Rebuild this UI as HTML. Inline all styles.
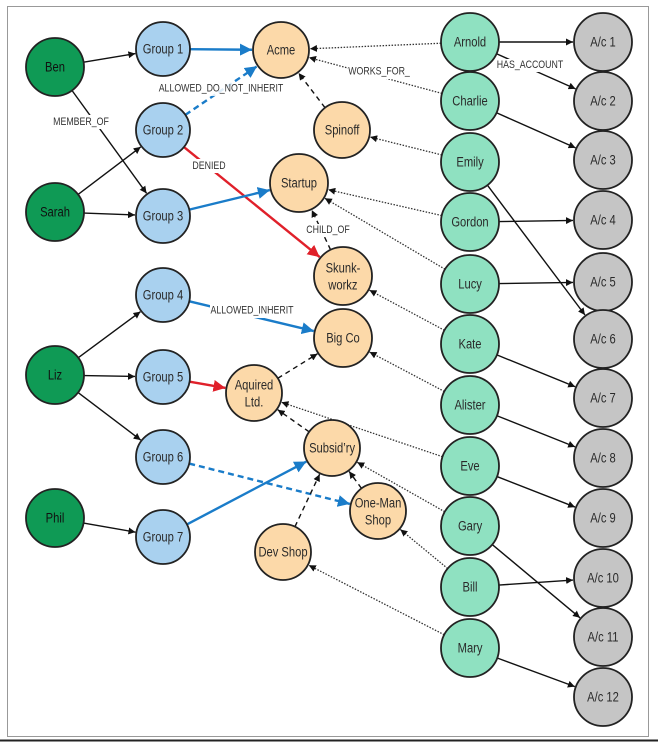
<!DOCTYPE html>
<html><head><meta charset="utf-8"><style>
html,body{margin:0;padding:0;background:#fff;}
svg{display:block;}
text{font-family:"Liberation Sans",sans-serif;font-size:14px;fill:#2a2a2a;text-anchor:middle;dominant-baseline:central;transform-box:fill-box;transform-origin:center;transform:scaleX(0.8);}
.lbl{font-size:11px;fill:#333;}
circle{stroke:#222;stroke-width:1.8;}
.p{fill:#0f9a55}.g{fill:#a9d1ef}.c{fill:#fcd9a9}.e{fill:#8fe1c1}.a{fill:#c5c5c5}
</style></head><body>
<svg id="s" width="658" height="742" viewBox="0 0 658 742">
<defs>
<marker id="mk" viewBox="0 0 10 10" refX="10" refY="5" markerWidth="7" markerHeight="7" markerUnits="userSpaceOnUse" orient="auto"><path d="M0,0L10,5L0,10z" fill="#111"/></marker>
<marker id="mb" viewBox="0 0 10 10" refX="10" refY="5" markerWidth="12" markerHeight="12" markerUnits="userSpaceOnUse" orient="auto"><path d="M0,0L10,5L0,10z" fill="#1a7cc9"/></marker>
<marker id="mr" viewBox="0 0 10 10" refX="10" refY="5" markerWidth="12" markerHeight="12" markerUnits="userSpaceOnUse" orient="auto"><path d="M0,0L10,5L0,10z" fill="#e0202a"/></marker>
</defs>
<rect x="7.5" y="6.5" width="641" height="730" fill="none" stroke="#999" stroke-width="1"/>
<line x1="0" y1="740.5" x2="658" y2="740.5" stroke="#222" stroke-width="2"/>
<g id="edges"></g>
<g id="nodes">
<circle class="p" cx="55" cy="67" r="29"/><text x="55" y="67" style="fill:#111">Ben</text>
<circle class="p" cx="55" cy="212" r="29"/><text x="55" y="212" style="fill:#111">Sarah</text>
<circle class="p" cx="55" cy="375" r="29"/><text x="55" y="375" style="fill:#111">Liz</text>
<circle class="p" cx="55" cy="518" r="29"/><text x="55" y="518" style="fill:#111">Phil</text>
<circle class="g" cx="163" cy="49" r="27"/><text x="163" y="49">Group 1</text>
<circle class="g" cx="163" cy="130" r="27"/><text x="163" y="130">Group 2</text>
<circle class="g" cx="163" cy="216" r="27"/><text x="163" y="216">Group 3</text>
<circle class="g" cx="163" cy="295" r="27"/><text x="163" y="295">Group 4</text>
<circle class="g" cx="163" cy="377" r="27"/><text x="163" y="377">Group 5</text>
<circle class="g" cx="163" cy="457" r="27"/><text x="163" y="457">Group 6</text>
<circle class="g" cx="163" cy="537" r="27"/><text x="163" y="537">Group 7</text>
<circle class="c" cx="281" cy="50" r="28"/><text x="281" y="50">Acme</text>
<circle class="c" cx="342" cy="130" r="28"/><text x="342" y="130">Spinoff</text>
<circle class="c" cx="299" cy="183" r="29"/><text x="299" y="183">Startup</text>
<circle class="c" cx="343" cy="276" r="29"/><text x="343" y="268">Skunk-</text><text x="343" y="285">workz</text>
<circle class="c" cx="343" cy="338" r="29"/><text x="343" y="338">Big Co</text>
<circle class="c" cx="254" cy="393" r="28"/><text x="254" y="385">Aquired</text><text x="254" y="402">Ltd.</text>
<circle class="c" cx="332" cy="448" r="28"/><text x="332" y="448">Subsid’ry</text>
<circle class="c" cx="378" cy="511" r="28"/><text x="378" y="503">One-Man</text><text x="378" y="520">Shop</text>
<circle class="c" cx="283" cy="552" r="28"/><text x="283" y="552">Dev Shop</text>
<circle class="e" cx="470" cy="42" r="29"/><text x="470" y="42">Arnold</text>
<circle class="e" cx="470" cy="101" r="29"/><text x="470" y="101">Charlie</text>
<circle class="e" cx="470" cy="162" r="29"/><text x="470" y="162">Emily</text>
<circle class="e" cx="470" cy="222" r="29"/><text x="470" y="222">Gordon</text>
<circle class="e" cx="470" cy="284" r="29"/><text x="470" y="284">Lucy</text>
<circle class="e" cx="470" cy="344" r="29"/><text x="470" y="344">Kate</text>
<circle class="e" cx="470" cy="405" r="29"/><text x="470" y="405">Alister</text>
<circle class="e" cx="470" cy="466" r="29"/><text x="470" y="466">Eve</text>
<circle class="e" cx="470" cy="526" r="29"/><text x="470" y="526">Gary</text>
<circle class="e" cx="470" cy="587" r="29"/><text x="470" y="587">Bill</text>
<circle class="e" cx="470" cy="648" r="29"/><text x="470" y="648">Mary</text>
<circle class="a" cx="603" cy="42" r="29"/><text x="603" y="42">A/c 1</text>
<circle class="a" cx="603" cy="101" r="29"/><text x="603" y="101">A/c 2</text>
<circle class="a" cx="603" cy="160" r="29"/><text x="603" y="160">A/c 3</text>
<circle class="a" cx="603" cy="220" r="29"/><text x="603" y="220">A/c 4</text>
<circle class="a" cx="603" cy="282" r="29"/><text x="603" y="282">A/c 5</text>
<circle class="a" cx="603" cy="339" r="29"/><text x="603" y="339">A/c 6</text>
<circle class="a" cx="603" cy="398" r="29"/><text x="603" y="398">A/c 7</text>
<circle class="a" cx="603" cy="458" r="29"/><text x="603" y="458">A/c 8</text>
<circle class="a" cx="603" cy="518" r="29"/><text x="603" y="518">A/c 9</text>
<circle class="a" cx="603" cy="578" r="29"/><text x="603" y="578">A/c 10</text>
<circle class="a" cx="603" cy="637" r="29"/><text x="603" y="637">A/c 11</text>
<circle class="a" cx="603" cy="697" r="29"/><text x="603" y="697">A/c 12</text>
</g>
<g>
<rect x="52" y="115" width="58" height="14" fill="#fff"/><text class="lbl" x="81" y="122">MEMBER_OF</text>
<rect x="157" y="82" width="128" height="14" fill="#fff" fill-opacity="0.85"/><text class="lbl" x="221" y="89">ALLOWED_DO_NOT_INHERIT</text>
<rect x="194" y="159" width="30" height="14" fill="#fff"/><text class="lbl" x="209" y="166">DENIED</text>
<rect x="305" y="224" width="46" height="13" fill="#fff"/><text class="lbl" x="328" y="230">CHILD_OF</text>
<rect x="210" y="305" width="84" height="13" fill="#fff"/><text class="lbl" x="252" y="311">ALLOWED_INHERIT</text>
<rect x="348" y="66" width="62" height="13" fill="#fff"/><text class="lbl" x="379" y="72">WORKS_FOR_</text>
<rect x="498" y="59" width="64" height="13" fill="#fff"/><text class="lbl" x="530" y="65">HAS_ACCOUNT</text>
</g>
</svg>
<script>
var N={Ben:[55,67,29],Sarah:[55,212,29],Liz:[55,375,29],Phil:[55,518,29],
G1:[163,49,27],G2:[163,130,27],G3:[163,216,27],G4:[163,295,27],G5:[163,377,27],G6:[163,457,27],G7:[163,537,27],
Acme:[281,50,28],Spin:[342,130,28],Start:[299,183,29],Skunk:[343,276,29],Big:[343,338,29],Aq:[254,393,28],Sub:[332,448,28],One:[378,511,28],Dev:[283,552,28]};
var ey=[42,101,162,222,284,344,405,466,526,587,648],ay=[42,101,160,220,282,339,398,458,518,578,637,697];
var en=['Arnold','Charlie','Emily','Gordon','Lucy','Kate','Alister','Eve','Gary','Bill','Mary'];
en.forEach(function(n,i){N[n]=[470,ey[i],29];});
ay.forEach(function(y,i){N['A'+(i+1)]=[603,y,29];});
var K='stroke:#111;stroke-width:1.4',B='stroke:#1a7cc9;stroke-width:2.4',R='stroke:#e0202a;stroke-width:2.4';
var E=[
['Ben','G1',K,'mk'],['Ben','G3',K,'mk'],['Sarah','G2',K,'mk'],['Sarah','G3',K,'mk'],['Liz','G4',K,'mk'],['Liz','G5',K,'mk'],['Liz','G6',K,'mk'],['Phil','G7',K,'mk'],
['G1','Acme',B,'mb'],['G2','Acme',B+';stroke-dasharray:6 4','mb'],['G2','Skunk',R,'mr'],['G3','Start',B,'mb'],['G4','Big',B,'mb'],['G5','Aq',R,'mr'],['G6','One',B+';stroke-dasharray:6 4','mb'],['G7','Sub',B,'mb'],
['Spin','Acme',K+';stroke-dasharray:5 4','mk'],['Skunk','Start',K+';stroke-dasharray:5 4','mk'],['Aq','Big',K+';stroke-dasharray:5 4','mk'],['Sub','Aq',K+';stroke-dasharray:5 4','mk'],['One','Sub',K+';stroke-dasharray:5 4','mk'],['Dev','Sub',K+';stroke-dasharray:5 4','mk'],
['Arnold','Acme','W'],['Charlie','Acme','W'],['Emily','Spin','W'],['Gordon','Start','W'],['Lucy','Start','W'],['Kate','Skunk','W'],['Alister','Big','W'],['Eve','Aq','W'],['Gary','Sub','W'],['Bill','One','W'],['Mary','Dev','W'],
['Arnold','A1',K,'mk'],['Arnold','A2',K,'mk'],['Charlie','A3',K,'mk'],['Emily','A6',K,'mk'],['Gordon','A4',K,'mk'],['Lucy','A5',K,'mk'],['Kate','A7',K,'mk'],['Alister','A8',K,'mk'],['Eve','A9',K,'mk'],['Gary','A11',K,'mk'],['Bill','A10',K,'mk'],['Mary','A12',K,'mk']];
var g=document.getElementById('edges'),h='';
E.forEach(function(e){var a=N[e[0]],b=N[e[1]];var st=e[2],m=e[3];
if(st=='W'){st='stroke:#333;stroke-width:1.3;stroke-dasharray:1.5 1.5';m='mk';}
var dx=b[0]-a[0],dy=b[1]-a[1],d=Math.sqrt(dx*dx+dy*dy),ux=dx/d,uy=dy/d;
h+='<line x1="'+(a[0]+ux*a[2])+'" y1="'+(a[1]+uy*a[2])+'" x2="'+(b[0]-ux*(b[2]+1))+'" y2="'+(b[1]-uy*(b[2]+1))+'" style="'+st+'" marker-end="url(#'+m+')"/>';});
g.innerHTML=h;
</script>
</body></html>
